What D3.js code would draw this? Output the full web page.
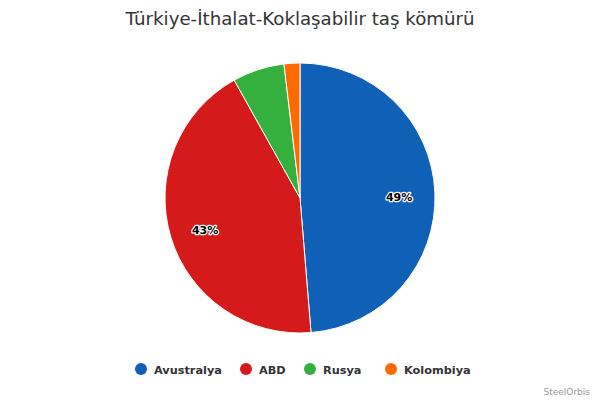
<!DOCTYPE html>
<html><head><meta charset="utf-8">
<script src="https://cdn.jsdelivr.net/npm/d3@7"></script>
<style>body{margin:0;background:#fff}svg{display:block}</style>
</head><body>
<svg id="c" width="600" height="400"></svg>
<script>
const categories = ["Avustralya", "ABD", "Rusya", "Kolombiya"];
const values = [48.7, 43.2, 6.2, 1.9];
const colors = ["#1060b8", "#d41a1a", "#35b03f", "#ff6a00"];
const title = "Türkiye-İthalat-Koklaşabilir taş kömürü";
const credit = "SteelOrbis";

const svg = d3.select("#c");
const W = 600, H = 400;
svg.append("rect").attr("width", W).attr("height", H).attr("fill", "#fff");

svg.append("text").attr("x", W/2).attr("y", 25).attr("text-anchor", "middle")
  .attr("font-family", "DejaVu Sans, sans-serif").attr("font-size", 18.2).attr("fill", "#333")
  .text(title);

const cx = 300, cy = 198, R = 135;
const data = categories.map((c, i) => ({name: c, value: values[i], color: colors[i]}));
const pie = d3.pie().value(d => d.value).sort(null);
const arcs = pie(data);
const arc = d3.arc().innerRadius(0).outerRadius(R);
const labelArc = d3.arc().innerRadius(R*0.735).outerRadius(R*0.735);
const total = d3.sum(values);

const g = svg.append("g").attr("transform", `translate(${cx},${cy})`);
g.selectAll("path").data(arcs).join("path")
  .attr("d", arc).attr("fill", d => d.data.color)
  .attr("stroke", "#fff").attr("stroke-width", 1).attr("stroke-linejoin", "round");

g.selectAll("text.lbl").data(arcs.filter(d => d.data.value / total > 0.1)).join("text")
  .attr("class", "lbl")
  .attr("transform", d => { const c = labelArc.centroid(d); return `translate(${c[0]},${c[1] + 3})`; })
  .attr("text-anchor", "middle").attr("dy", "0.35em")
  .attr("font-family", "DejaVu Sans, sans-serif").attr("font-size", 11).attr("font-weight", "bold")
  .attr("fill", "#000").attr("stroke", "#fff").attr("stroke-width", 2.5).attr("paint-order", "stroke")
  .attr("stroke-linejoin", "round")
  .text(d => Math.round(d.data.value) + "%");

// legend
const lx = [141, 246, 310, 391];
const lg = svg.append("g");
data.forEach((d, i) => {
  lg.append("circle").attr("cx", lx[i]).attr("cy", 369).attr("r", 6).attr("fill", d.color);
  lg.append("text").attr("x", lx[i] + 13).attr("y", 373.5)
    .attr("font-family", "DejaVu Sans, sans-serif").attr("font-size", 11.3).attr("font-weight", "bold")
    .attr("fill", "#333").text(d.name);
});

svg.append("text").attr("x", 590).attr("y", 395).attr("text-anchor", "end")
  .attr("font-family", "DejaVu Sans, sans-serif").attr("font-size", 9).attr("fill", "#999")
  .text(credit);
</script>
</body></html>
